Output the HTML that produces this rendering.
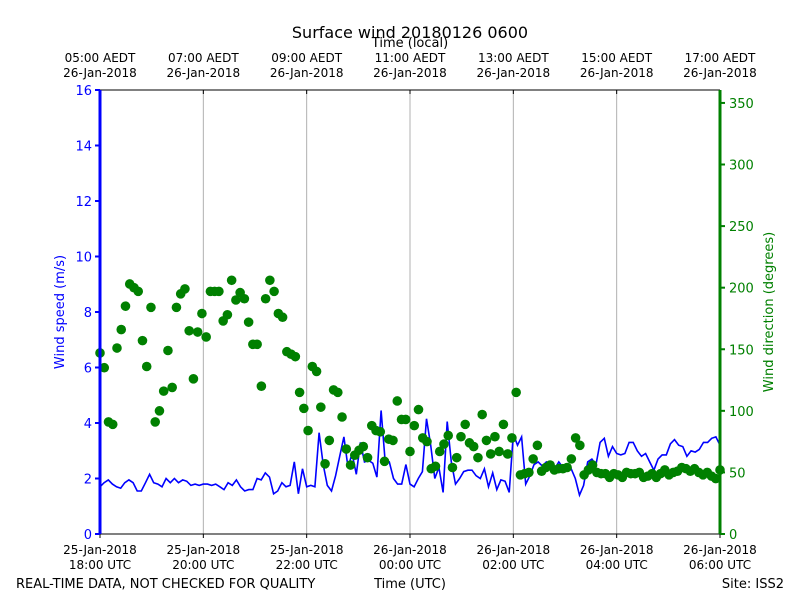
<!DOCTYPE html>
<html><head><meta charset="utf-8"><style>
body{margin:0;background:#fff;}
svg{display:block;font-family:"DejaVu Sans","Liberation Sans",sans-serif;}
</style></head><body>
<svg id="chart" width="800" height="600" viewBox="0 0 800 600">
<text x="410" y="38" font-size="16" text-anchor="middle">Surface wind 20180126 0600</text>
<text x="410" y="47" font-size="13" text-anchor="middle">Time (local)</text>
<g id="grid"></g>
<g id="marks"></g>
<g id="axes"></g>
<text x="0" y="0" font-size="13" fill="#0000ff" text-anchor="middle" transform="translate(64,312) rotate(-90)">Wind speed (m/s)</text>
<text x="0" y="0" font-size="13" fill="#008000" text-anchor="middle" transform="translate(773,312) rotate(-90)">Wind direction (degrees)</text>
<text x="16" y="588" font-size="13">REAL-TIME DATA, NOT CHECKED FOR QUALITY</text>
<text x="410" y="588" font-size="13" text-anchor="middle">Time (UTC)</text>
<text x="784" y="588" font-size="13" text-anchor="end">Site: ISS2</text>
</svg>
<script>
const speedTicks=[0,2,4,6,8,10,12,14,16];
const dirTicks=[0,50,100,150,200,250,300,350];
const timeTickHours=[0,2,4,6,8,10,12];
const utcLabels=[["25-Jan-2018","18:00 UTC"],["25-Jan-2018","20:00 UTC"],["25-Jan-2018","22:00 UTC"],["26-Jan-2018","00:00 UTC"],["26-Jan-2018","02:00 UTC"],["26-Jan-2018","04:00 UTC"],["26-Jan-2018","06:00 UTC"]];
const localLabels=[["05:00 AEDT","26-Jan-2018"],["07:00 AEDT","26-Jan-2018"],["09:00 AEDT","26-Jan-2018"],["11:00 AEDT","26-Jan-2018"],["13:00 AEDT","26-Jan-2018"],["15:00 AEDT","26-Jan-2018"],["17:00 AEDT","26-Jan-2018"]];
const speeds=[1.7,1.85,1.95,1.8,1.7,1.65,1.85,1.95,1.85,1.55,1.55,1.85,2.15,1.85,1.8,1.7,2.0,1.85,2.0,1.85,1.95,1.9,1.75,1.8,1.75,1.8,1.8,1.75,1.8,1.7,1.6,1.85,1.75,1.95,1.7,1.55,1.6,1.6,2.0,1.95,2.2,2.05,1.45,1.55,1.85,1.7,1.75,2.6,1.45,2.35,1.7,1.75,1.7,3.65,2.5,1.75,1.55,2.1,2.8,3.5,2.4,2.9,2.15,3.3,2.6,2.65,2.55,2.05,4.45,2.6,2.6,2.0,1.8,1.8,2.5,1.8,1.7,2.0,2.25,4.15,3.2,2.0,2.4,1.5,4.05,2.6,1.8,2.0,2.25,2.3,2.3,2.1,2.0,2.35,1.7,2.2,1.6,1.95,1.9,1.5,3.6,3.2,3.5,1.8,2.1,2.5,2.6,2.45,2.6,2.5,2.35,2.6,2.4,2.5,2.35,2.0,1.4,1.75,2.6,2.7,2.5,3.3,3.45,2.8,3.15,2.9,2.85,2.9,3.3,3.3,3.0,2.8,2.9,2.6,2.3,2.7,2.85,2.85,3.25,3.4,3.2,3.15,2.8,3.0,2.95,3.05,3.3,3.3,3.45,3.5,3.2];
const directions=[147,135,91,89,151,166,185,203,200,197,157,136,184,91,100,116,149,119,184,195,199,165,126,164,179,160,197,197,197,173,178,206,190,196,191,172,154,154,120,191,206,197,179,176,148,146,144,115,102,84,136,132,103,57,76,117,115,95,69,56,64,68,71,62,88,84,83,59,77,76,108,93,93,67,88,101,78,75,53,55,67,73,80,54,62,79,89,74,71,62,97,76,65,79,67,89,65,78,115,48,49,50,61,72,51,54,56,52,53,53,54,61,78,72,48,52,56,50,49,49,46,49,48,46,50,49,49,50,46,47,49,46,49,52,48,50,51,54,53,51,53,50,48,50,47,45,52];
const NS="http://www.w3.org/2000/svg";
const PL=100,PR=720,PT=90,PB=534;
const xT=m=>PL+(PR-PL)*m/720;
const yS=v=>PB-(PB-PT)*v/16;
const yD=d=>PB-(PB-PT)*d/360.5;
function mk(tag,attrs,parent){const e=document.createElementNS(NS,tag);for(const k in attrs)e.setAttribute(k,attrs[k]);parent.appendChild(e);return e;}
const gridG=document.getElementById('grid'),marksG=document.getElementById('marks'),axesG=document.getElementById('axes');
timeTickHours.forEach((h,i)=>{
  const x=xT(h*60);
  if(i>0&&i<timeTickHours.length-1){const g=mk('line',{x1:x,x2:x,y1:PT,y2:PB,stroke:'#b0b0b0','stroke-width':1},gridG);
  
  }
  const tb=mk('line',{x1:x,x2:x,y1:PB,y2:PB+4,stroke:'#000'},axesG);
  
  
  const tt=mk('line',{x1:x,x2:x,y1:PT,y2:PT+4,stroke:'#000'},axesG);
  
  
  utcLabels[i].forEach((s,j)=>{const t=mk('text',{x:x,y:554+j*15,'font-size':12,'text-anchor':'middle'},axesG);t.textContent=s;
  
  });
  localLabels[i].forEach((s,j)=>{const t=mk('text',{x:x,y:62+j*15,'font-size':12,'text-anchor':'middle'},axesG);t.textContent=s;
  
  });
});
const n=speeds.length;
const pts=speeds.map((v,i)=>xT(i*720/(n-1)).toFixed(1)+','+yS(v).toFixed(1)).join(' ');
const pl=mk('polyline',{points:pts,fill:'none',stroke:'#0000ff','stroke-width':1.6},marksG);


const m=directions.length;
directions.forEach((d,i)=>{const c=mk('circle',{cx:xT(i*720/(m-1)),cy:yD(d),r:4.8,fill:'#008000'},marksG);

});
const topSpine=mk('line',{x1:PL,x2:PR,y1:PT,y2:PT,stroke:'#000','stroke-width':1},axesG);


const botSpine=mk('line',{x1:PL,x2:PR,y1:PB,y2:PB,stroke:'#000','stroke-width':1},axesG);


const la=mk('line',{x1:PL,x2:PL,y1:PT,y2:PB,stroke:'#0000ff','stroke-width':3},axesG);


const ra=mk('line',{x1:PR,x2:PR,y1:PT,y2:PB,stroke:'#008000','stroke-width':3},axesG);


speedTicks.forEach(v=>{const y=yS(v);
  const tk=mk('line',{x1:PL-5,x2:PL,y1:y,y2:y,stroke:'#0000ff','stroke-width':2},axesG);
  
  
  const t=mk('text',{x:PL-8,y:y+5,'font-size':13,fill:'#0000ff','text-anchor':'end'},axesG);t.textContent=v;
  
  });
dirTicks.forEach(v=>{const y=yD(v);
  const tk=mk('line',{x1:PR,x2:PR+5,y1:y,y2:y,stroke:'#008000','stroke-width':2},axesG);
  
  
  const t=mk('text',{x:PR+9,y:y+5,'font-size':13,fill:'#008000'},axesG);t.textContent=v;
  
  });
</script>
</body></html>
